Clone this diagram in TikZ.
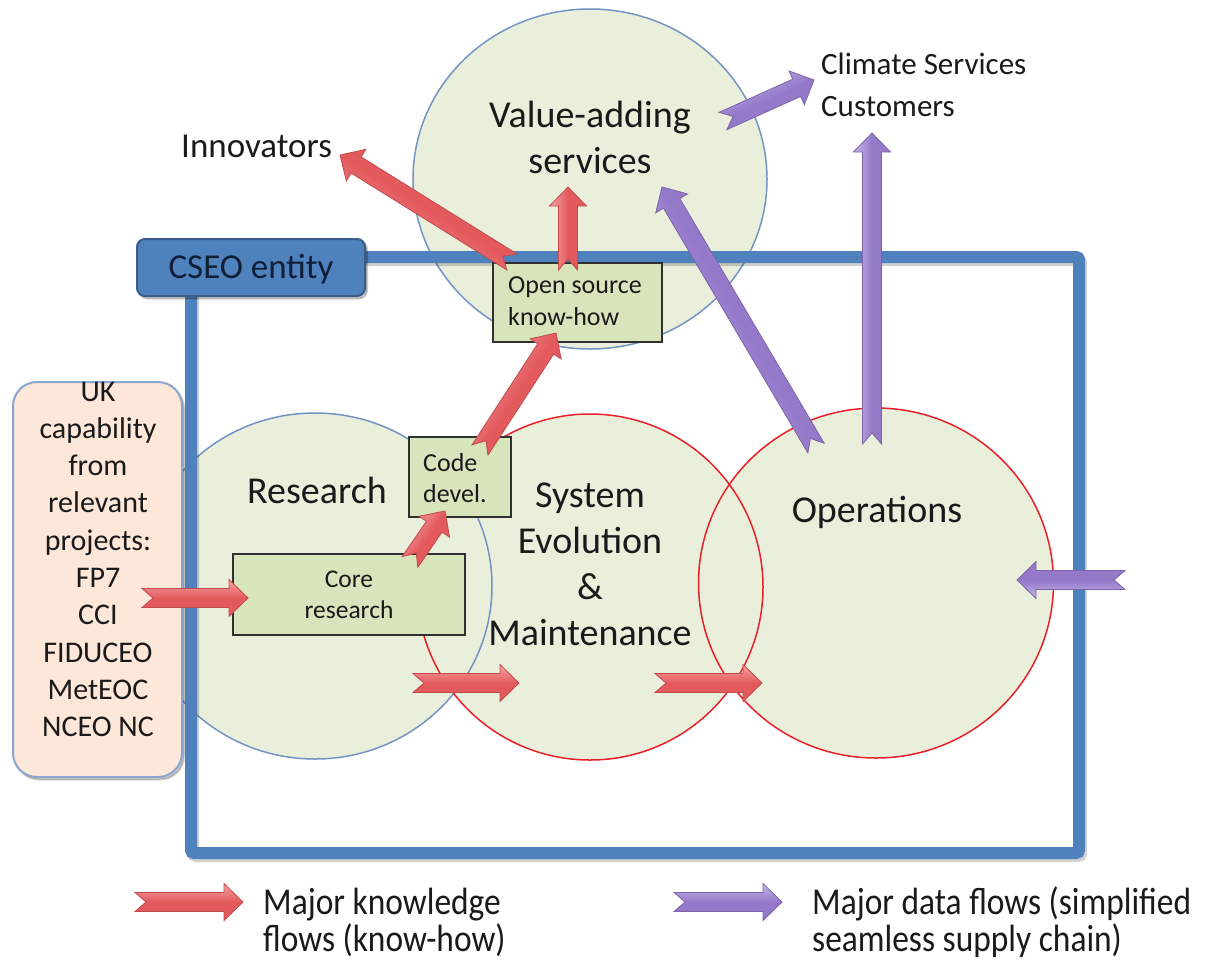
\documentclass[tikz,border=0pt]{standalone}
\usepackage{fontspec}
\setmainfont{Carlito}
\newfontfamily\condfont[FakeStretch=0.88]{Carlito}
\usetikzlibrary{calc,shapes.geometric}
\definecolor{circfill}{HTML}{EAEFDC}
\definecolor{ringblue}{HTML}{7394C4}
\definecolor{ringred}{HTML}{E8202A}
\definecolor{boxgreen}{HTML}{D7E4BC}
\definecolor{boxline}{HTML}{303030}
\definecolor{frameblue}{HTML}{4F81BD}
\definecolor{cseoline}{HTML}{385D8A}
\definecolor{cseotext}{HTML}{0F1F38}
\definecolor{ukfill}{HTML}{FCE7D9}
\definecolor{ukline}{HTML}{8AA6CF}
\definecolor{arrred}{HTML}{E35A5D}
\definecolor{arrredlight}{HTML}{F5A4A4}
\definecolor{arrredline}{HTML}{C44A4C}
\definecolor{arrpurp}{HTML}{9479C9}
\definecolor{arrpurplight}{HTML}{C6B6E8}
\definecolor{arrpurpline}{HTML}{7E64A8}
\definecolor{txt}{HTML}{1A1A1A}
\newcommand{\ml}[2]{\begin{tabular}[t]{@{}#1@{}}#2\end{tabular}}
\newcommand{\fatarrow}[3]{%
  \pgfmathanglebetweenpoints{\pgfpointanchor{#2}{center}}{\pgfpointanchor{#3}{center}}%
  \let\fangle\pgfmathresult
  \coordinate (fah) at ($(#3)!19pt!(#2)$);
  \coordinate (fan) at ($(#2)!11pt!(#3)$);
  \path[#1, shading angle=\fangle] ($(#2)!9.5pt!90:(#3)$) -- ($(fah)!9.5pt!90:(#3)$) -- ($(fah)!18.5pt!90:(#3)$) -- (#3)
    -- ($(fah)!18.5pt!-90:(#3)$) -- ($(fah)!9.5pt!-90:(#3)$) -- ($(#2)!9.5pt!-90:(#3)$) -- (fan) -- cycle;}
\tikzset{
  circ/.style={ellipse, inner sep=0pt, fill=circfill},
  bluering/.style={draw=ringblue, line width=1.5pt},
  redring/.style={draw=ringred, line width=1.5pt},
  greenbox/.style={rectangle, fill=boxgreen, draw=boxline, line width=1.3pt, inner sep=0pt},
  redarrow/.style={top color=arrredlight, bottom color=arrred, middle color=arrred, draw=arrredline, line width=0.8pt},
  purparrow/.style={top color=arrpurplight, bottom color=arrpurp, middle color=arrpurp, draw=arrpurpline, line width=0.8pt},
  lbl/.style={inner sep=0pt, text=txt},
  bigfont/.style={font=\fontsize{38}{46}\selectfont},
  smallfont/.style={font=\fontsize{26}{31}\selectfont},
  shadowstyle/.style={draw=black, draw opacity=0.18, fill opacity=0.18},
}
\begin{document}
\begin{tikzpicture}[x=1pt,y=-1pt]
\fill[white] (0,0) rectangle (1217,959);
\useasboundingbox (0,0) rectangle (1217,959);

% circles
\node[circ, minimum width=354pt, minimum height=340pt] (val) at (590,179) {};
\draw[bluering] (val.center) ellipse [x radius=177pt, y radius=170pt];
\node[circ, minimum width=354pt, minimum height=346pt] (res) at (315,586) {};
\node[circ, minimum width=346pt, minimum height=346pt] (sys) at (590,587) {};
\node[circ, minimum width=355pt, minimum height=350pt] (ops) at (876,583) {};
\draw[bluering] (res.center) ellipse [x radius=177pt, y radius=173pt];
\draw[redring] (sys.center) ellipse [x radius=173pt, y radius=173pt];
\draw[redring] (ops.center) ellipse [x radius=177.5pt, y radius=175pt];

% CSEO frame with soft shadow
\node[shadowstyle, line width=12pt, rounded corners=3pt, inner sep=0pt,
      minimum width=888pt, minimum height=596pt] (frameshadow) at (637,558) {};
\node[draw=frameblue, line width=12pt, rounded corners=3pt, inner sep=0pt,
      minimum width=888pt, minimum height=596pt] (frame) at (635,555) {};

% UK box
\node[shadowstyle, fill=black, rectangle, rounded corners=24pt, line width=2pt, inner sep=0pt,
      minimum width=169pt, minimum height=395pt] (ukshadow) at (99.5,582) {};
\node[rectangle, rounded corners=24pt, fill=ukfill, draw=ukline, line width=2pt, inner sep=0pt,
      minimum width=169pt, minimum height=395pt] (uk) at (97.5,579.5) {};
% CSEO label box
\node[shadowstyle, fill=black, rectangle, rounded corners=8pt, line width=2pt, inner sep=0pt,
      minimum width=228pt, minimum height=57pt] (cseoshadow) at (253,270) {};
\node[rectangle, rounded corners=8pt, fill=frameblue, draw=cseoline, line width=2pt, inner sep=0pt,
      minimum width=228pt, minimum height=57pt] (cseo) at (251,267.5) {};

% green boxes
\node[greenbox, minimum width=232pt, minimum height=81pt] (core) at (349,594.5) {};
\node[greenbox, minimum width=102pt, minimum height=80pt] (code) at (460,477) {};
\node[greenbox, minimum width=169pt, minimum height=79pt] (open) at (577.5,302.5) {};

% arrow end points
\coordinate (a1s) at (142,598);  \coordinate (a1e) at (248,598);
\coordinate (a2s) at (410,562);  \coordinate (a2e) at (445,511);
\coordinate (a3s) at (480,450);  \coordinate (a3e) at (556,333);
\coordinate (a4s) at (568,270);  \coordinate (a4e) at (568,187);
\coordinate (a5s) at (512,262);  \coordinate (a5e) at (340,155);
\coordinate (a6s) at (413,683);  \coordinate (a6e) at (519,683);
\coordinate (a7s) at (655,683);  \coordinate (a7e) at (762,683);
\coordinate (p1s) at (723,121);  \coordinate (p1e) at (814,80);
\coordinate (p2s) at (816,448);  \coordinate (p2e) at (662,187);
\coordinate (p3s) at (872,444);  \coordinate (p3e) at (872,133);
\coordinate (p4s) at (1125,580); \coordinate (p4e) at (1017,580);
\coordinate (l1s) at (135,902);  \coordinate (l1e) at (243,902);
\coordinate (l2s) at (674,902);  \coordinate (l2e) at (782,902);

\fatarrow{redarrow}{a1s}{a1e}
\fatarrow{redarrow}{a2s}{a2e}
\fatarrow{redarrow}{a3s}{a3e}
\fatarrow{redarrow}{a4s}{a4e}
\fatarrow{redarrow}{a5s}{a5e}
\fatarrow{redarrow}{a6s}{a6e}
\fatarrow{redarrow}{a7s}{a7e}
\fatarrow{purparrow}{p1s}{p1e}
\fatarrow{purparrow}{p2s}{p2e}
\fatarrow{purparrow}{p3s}{p3e}
\fatarrow{purparrow}{p4s}{p4e}
\fatarrow{redarrow}{l1s}{l1e}
\fatarrow{purparrow}{l2s}{l2e}

% texts
\node[lbl, bigfont, anchor=base] (tval) at (590,127) {\ml{c}{Value-adding\\services}};
\node[lbl, bigfont, anchor=base] (tres) at (317,503) {Research};
\node[lbl, bigfont, anchor=base] (tsys) at (590,507) {\ml{c}{System\\Evolution\\\&\\Maintenance}};
\node[lbl, bigfont, anchor=base] (tops) at (877,522) {Operations};
\node[lbl, font=\fontsize{25.5}{31}\selectfont, anchor=base] (tcore) at (349,587) {\ml{c}{Core\\research}};
\node[lbl, smallfont, anchor=base west] (tcode) at (423,471) {\ml{l}{Code\\devel.}};
\node[lbl, font=\fontsize{26}{32}\selectfont, anchor=base west] (topen) at (508,293) {\ml{l}{Open source\\know-how}};
\node[inner sep=0pt, text=cseotext, font=\fontsize{35}{42}\selectfont, anchor=base] (tcseo) at (251,278) {CSEO entity};
\node[lbl, font=\fontsize{35}{42}\selectfont, anchor=base west] (tinn) at (181,157) {Innovators};
\node[lbl, font=\fontsize{31}{42}\selectfont, anchor=base west] (tclim) at (821,74) {\ml{l}{Climate Services\\Customers}};
\node[lbl, font=\fontsize{30}{37.3}\selectfont, anchor=base] (tuk) at (98,401)
  {\ml{c}{UK\\capability\\from\\relevant\\projects:\\FP7\\CCI\\FIDUCEO\\MetEOC\\NCEO NC}};
\node[lbl, font=\condfont\fontsize{38}{32}\selectfont, anchor=base west] (tleg1) at (263,914) {\ml{l}{Major knowledge\\flows (know-how)}};
\node[lbl, font=\condfont\fontsize{38}{32}\selectfont, anchor=base west] (tleg2) at (812,914) {\ml{l}{Major data flows (simplified\\seamless supply chain)}};
\end{tikzpicture}
\end{document}
